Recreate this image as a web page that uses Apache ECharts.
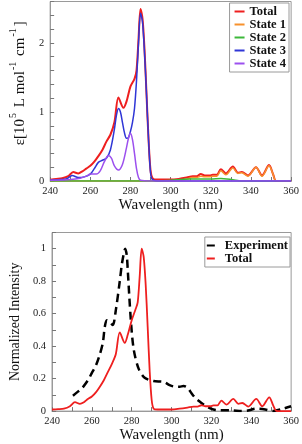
<!DOCTYPE html>
<html>
<head>
<meta charset="utf-8">
<script src="https://cdn.jsdelivr.net/npm/echarts@6/dist/echarts.min.js"></script>
<style>html,body{margin:0;padding:0;background:#fff;}#c{width:302px;height:444px;}</style>
</head>
<body>
<div id="c"></div>
<script>
// ---- Top panel: absorption (units of 1e5 L mol^-1 cm^-1) ----
var totalX = [240,243,246,249,251.5,254,256,258,260,262,264,266,268,270,272,274,276.5,278,280,282,283,284,285,286,287,288,289,290,291,293,296,300,304,308,311,313,315,317,319.5,321,323,325,327.5,331,333.5,335.5,338.5,342.5,345.5,349,351,352.5,355,360];
var totalY = [0.02,0.03,0.04,0.07,0.13,0.11,0.14,0.18,0.22,0.28,0.36,0.45,0.57,0.67,0.85,1.21,1.06,1.15,1.37,1.48,1.6,2.05,2.49,2.35,1.9,1.25,0.6,0.15,0.04,0.02,0.02,0.02,0.03,0.05,0.07,0.07,0.1,0.08,0.08,0.09,0.09,0.17,0.11,0.21,0.12,0.13,0.08,0.2,0.08,0.23,0.1,0.0,0,0];

var state1X = [240,290,300,305,308,311,313,315,317,319.5,321,323,325,327.5,331,333.5,335.5,338.5,342.5,345.5,349,351,352.5,360];
var state1Y = [0,0,0.0,0.01,0.03,0.05,0.05,0.07,0.06,0.06,0.07,0.07,0.15,0.09,0.19,0.11,0.12,0.07,0.2,0.07,0.22,0.1,0.0,0];

var state2X = [240,290,300,305,310,315,320,325,328,331,334,336,360];
var state2Y = [0,0,0.01,0.02,0.03,0.03,0.03,0.035,0.03,0.02,0.005,0,0];

var state3X = [240,245,248,251,254,257,260,262,264,266,268,270,272,273,274,275,276,277,278,279,280,281,282,283,284,285,286,287,288,289,290,291,295,360];
var state3Y = [0.01,0.02,0.03,0.08,0.05,0.06,0.1,0.18,0.27,0.3,0.33,0.45,0.75,0.95,1.05,1.0,0.85,0.7,0.62,0.63,0.72,0.85,1.05,1.45,2.0,2.43,2.3,1.85,1.25,0.6,0.12,0.02,0,0];

var state4X = [240,250,255,258,260,263,265,267,269,270.5,272,274,276,278,279,280,281,282,283,284,285,290,360];
var state4Y = [0.01,0.02,0.04,0.07,0.1,0.1,0.15,0.28,0.37,0.33,0.22,0.16,0.24,0.48,0.62,0.69,0.6,0.4,0.18,0.05,0.01,0,0];

// ---- Bottom panel: normalized intensity ----
var normTotalX = totalX;
var normTotalY = [0.01,0.012,0.015,0.03,0.055,0.045,0.055,0.075,0.09,0.115,0.15,0.19,0.24,0.29,0.35,0.485,0.42,0.47,0.56,0.63,0.67,0.83,1.0,0.95,0.78,0.52,0.25,0.07,0.015,0.01,0.01,0.01,0.015,0.022,0.028,0.028,0.036,0.03,0.03,0.035,0.035,0.065,0.04,0.075,0.045,0.05,0.028,0.075,0.03,0.085,0.035,0.002,0,0];

var exptX = [250.5,253,255,258,260,262,264,265.5,266.5,267.5,269,270.5,272,274,275,276,276.7,277.5,278,279.5,281,283.5,286.5,291,296,299,302,304,306,308,310,312,315,318,321,324,330,335,339,342,347,351,356,360];
var exptY = [0.095,0.12,0.14,0.19,0.235,0.28,0.35,0.42,0.52,0.56,0.55,0.53,0.62,0.8,0.9,0.97,1.0,0.96,0.87,0.57,0.38,0.26,0.205,0.185,0.18,0.16,0.15,0.15,0.155,0.145,0.11,0.08,0.05,0.025,0.01,0.005,0.005,0.0,0.005,0.015,0.01,0.0,0.015,0.03];

var xTicks = [240,260,280,300,320,340,360];

function pairs(xs, ys){ return xs.map(function(x,i){ return [x, ys[i]]; }); }

var SERIF = '"Liberation Serif", "DejaVu Serif", serif';
var FRAME = '#9a9a9a';
var C = {total:'#ee1f1f', s1:'#f7912c', s2:'#3db83a', s3:'#2f36d6', s4:'#9c50ee', exp:'#000'};

function xAxisCfg(grid){
  return {
    type:'value', gridIndex:grid, min:240, max:360, interval:10,
    axisLine:{show:true, lineStyle:{color:FRAME, width:1}},
    axisTick:{show:true, inside:true, length:4, lineStyle:{color:'#777'}},
    axisLabel:{show:true, margin:5, fontFamily:SERIF, fontSize:10.5, color:'#222',
      formatter:function(v){ return xTicks.indexOf(v) >= 0 ? String(v) : ''; }},
    splitLine:{show:false},
    name:'Wavelength (nm)', nameLocation:'middle', nameGap:16,
    nameTextStyle:{fontFamily:SERIF, fontSize:15, color:'#111'}
  };
}

var option = {
  animation:false,
  backgroundColor:'#fff',
  grid:[
    {left:37.5, right:9.5, top:1.5, height:179.5, show:true, borderColor:FRAME, borderWidth:1, backgroundColor:'transparent'},
    {left:37.5, right:9.5, top:232.5, height:179.2, show:true, borderColor:FRAME, borderWidth:1, backgroundColor:'transparent'}
  ],
  xAxis:[ xAxisCfg(0), xAxisCfg(1) ],
  yAxis:[
    {type:'value', gridIndex:0, min:0, max:2.6, interval:0.2,
      axisLine:{show:true, lineStyle:{color:FRAME}},
      axisTick:{show:true, inside:true, length:4, lineStyle:{color:'#777'}},
      axisLabel:{margin:6, fontFamily:SERIF, fontSize:10.5, color:'#222',
        formatter:function(v){ var r=Math.round(v); return (Math.abs(v-r)<1e-6 && r<=2) ? String(r) : ''; }},
      splitLine:{show:false},
      name:'{a|ε[10}{s|5}{a| L mol}{s|-1}{a| cm}{s|-1}{a|]}', nameLocation:'middle', nameGap:12,
      nameTextStyle:{fontFamily:SERIF, color:'#111', padding:[0,0,0,16],
        rich:{a:{fontFamily:SERIF, fontSize:15, color:'#111', lineHeight:20, verticalAlign:'bottom'},
              s:{fontFamily:SERIF, fontSize:10, color:'#111', lineHeight:20, verticalAlign:'top', padding:[0,2,0,1]}}}
    },
    {type:'value', gridIndex:1, min:0, max:1.1, interval:0.1,
      axisLine:{show:true, lineStyle:{color:FRAME}},
      axisTick:{show:true, inside:true, length:4, lineStyle:{color:'#777'}},
      axisLabel:{margin:6, fontFamily:SERIF, fontSize:10.5, color:'#222',
        formatter:function(v){ var k=Math.round(v*10); if(k%2!==0 || k>10) return ''; if(k===0) return '0'; if(k===10) return '1'; return (k/10).toFixed(1); }},
      splitLine:{show:false},
      name:'Normalized Intensity', nameLocation:'middle', nameGap:24,
      nameTextStyle:{fontFamily:SERIF, fontSize:14, color:'#111'}
    }
  ],
  legend:[
    {data:['Total','State 1','State 2','State 3','State 4'], orient:'vertical', right:13, top:3,
      icon:'rect', itemWidth:10, itemHeight:2, itemGap:0, padding:[2,3,2,5],
      backgroundColor:'#fff', borderColor:FRAME, borderWidth:1, borderRadius:0,
      textStyle:{fontFamily:SERIF, fontSize:12.5, fontWeight:'bold', color:'#111', lineHeight:11.5}},
    {data:['Experiment','Total'], orient:'vertical', right:12, top:237,
      icon:'rect', itemWidth:8, itemHeight:2, itemGap:0, padding:[2,2,2,2],
      backgroundColor:'#fff', borderColor:FRAME, borderWidth:1, borderRadius:0,
      textStyle:{fontFamily:SERIF, fontSize:12.5, fontWeight:'bold', color:'#111', lineHeight:10.6, padding:[0,0,0,5]}}
  ],
  series:[
    {name:'Total', type:'line', xAxisIndex:0, yAxisIndex:0, data:pairs(totalX,totalY), smooth:0.3, showSymbol:false, lineStyle:{color:C.total, width:2}, itemStyle:{color:C.total}, z:2},
    {name:'State 1', type:'line', xAxisIndex:0, yAxisIndex:0, data:pairs(state1X,state1Y), smooth:0.3, showSymbol:false, lineStyle:{color:C.s1, width:1.5}, itemStyle:{color:C.s1}, z:3},
    {name:'State 2', type:'line', xAxisIndex:0, yAxisIndex:0, data:pairs(state2X,state2Y), smooth:0.3, showSymbol:false, lineStyle:{color:C.s2, width:1.5}, itemStyle:{color:C.s2}, z:3},
    {name:'State 3', type:'line', xAxisIndex:0, yAxisIndex:0, data:pairs(state3X,state3Y), smooth:0.3, showSymbol:false, lineStyle:{color:C.s3, width:1.5}, itemStyle:{color:C.s3}, z:3},
    {name:'State 4', type:'line', xAxisIndex:0, yAxisIndex:0, data:pairs(state4X,state4Y), smooth:0.3, showSymbol:false, lineStyle:{color:C.s4, width:1.5}, itemStyle:{color:C.s4}, z:3},
    {name:'Experiment', type:'line', xAxisIndex:1, yAxisIndex:1, data:pairs(exptX,exptY), smooth:0.3, showSymbol:false, lineStyle:{color:C.exp, width:2.5, type:[8,5]}, itemStyle:{color:C.exp}, z:2},
    {name:'Total', type:'line', xAxisIndex:1, yAxisIndex:1, data:pairs(normTotalX,normTotalY), smooth:0.3, showSymbol:false, lineStyle:{color:C.total, width:1.8}, itemStyle:{color:C.total}, z:3}
  ]
};
var chart = echarts.init(document.getElementById('c'), null, {renderer:'canvas'});
chart.setOption(option);
</script>
</body>
</html>
